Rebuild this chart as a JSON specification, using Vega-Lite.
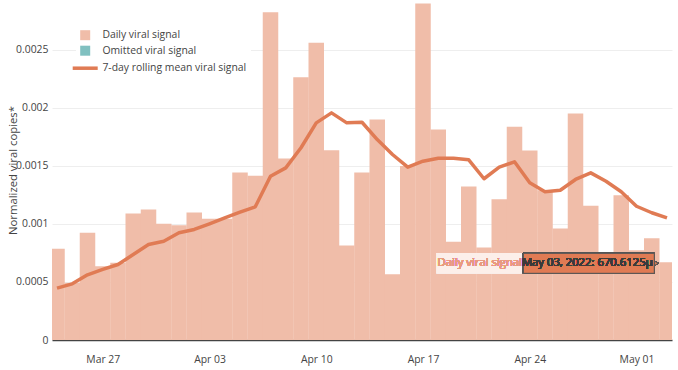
{
  "$schema": "https://vega.github.io/schema/vega-lite/v6.json",
  "width": 620,
  "height": 340,
  "autosize": {"type": "none"},
  "padding": {"left": 52, "top": 0, "right": 6, "bottom": 30},
  "config": {
    "font": "Open Sans",
    "view": {"stroke": null},
    "axis": {"labelColor": "#444", "titleColor": "#444", "labelFont": "Open Sans", "titleFont": "Open Sans"},
    "legend": {"labelFont": "Open Sans"}
  },
  "data": {
    "values": [
      {"date": "2022-03-24", "daily": 0.000786, "mean": 0.000447},
      {"date": "2022-03-25", "daily": 0.000493, "mean": 0.000484},
      {"date": "2022-03-26", "daily": 0.000924, "mean": 0.000562},
      {"date": "2022-03-27", "daily": 0.000636, "mean": 0.000608},
      {"date": "2022-03-28", "daily": 0.000665, "mean": 0.000651},
      {"date": "2022-03-29", "daily": 0.00109, "mean": 0.000737},
      {"date": "2022-03-30", "daily": 0.001125, "mean": 0.000823},
      {"date": "2022-03-31", "daily": 0.001002, "mean": 0.000852},
      {"date": "2022-04-01", "daily": 0.00099, "mean": 0.000924},
      {"date": "2022-04-02", "daily": 0.001099, "mean": 0.000953},
      {"date": "2022-04-03", "daily": 0.001045, "mean": 0.001002},
      {"date": "2022-04-04", "daily": 0.001045, "mean": 0.001053},
      {"date": "2022-04-05", "daily": 0.001444, "mean": 0.001102},
      {"date": "2022-04-06", "daily": 0.001415, "mean": 0.001148},
      {"date": "2022-04-07", "daily": 0.002826, "mean": 0.001412},
      {"date": "2022-04-08", "daily": 0.001565, "mean": 0.001484},
      {"date": "2022-04-09", "daily": 0.002266, "mean": 0.001657},
      {"date": "2022-04-10", "daily": 0.002562, "mean": 0.001872},
      {"date": "2022-04-11", "daily": 0.001636, "mean": 0.001958},
      {"date": "2022-04-12", "daily": 0.000815, "mean": 0.001872},
      {"date": "2022-04-13", "daily": 0.001444, "mean": 0.001877},
      {"date": "2022-04-14", "daily": 0.001901, "mean": 0.001728},
      {"date": "2022-04-15", "daily": 0.000567, "mean": 0.001599},
      {"date": "2022-04-16", "daily": 0.0015, "mean": 0.00149},
      {"date": "2022-04-17", "daily": 0.0029, "mean": 0.001541},
      {"date": "2022-04-18", "daily": 0.001815, "mean": 0.001567},
      {"date": "2022-04-19", "daily": 0.000846, "mean": 0.001567},
      {"date": "2022-04-20", "daily": 0.001323, "mean": 0.001553},
      {"date": "2022-04-21", "daily": 0.000797, "mean": 0.00139},
      {"date": "2022-04-22", "daily": 0.001214, "mean": 0.00149},
      {"date": "2022-04-23", "daily": 0.001838, "mean": 0.001536},
      {"date": "2022-04-24", "daily": 0.001634, "mean": 0.001355},
      {"date": "2022-04-25", "daily": 0.00129, "mean": 0.001278},
      {"date": "2022-04-26", "daily": 0.000961, "mean": 0.001291},
      {"date": "2022-04-27", "daily": 0.001953, "mean": 0.001384},
      {"date": "2022-04-28", "daily": 0.001157, "mean": 0.001441},
      {"date": "2022-04-29", "daily": 0.00071, "mean": 0.001369},
      {"date": "2022-04-30", "daily": 0.001248, "mean": 0.001278},
      {"date": "2022-05-01", "daily": 0.000774, "mean": 0.001153},
      {"date": "2022-05-02", "daily": 0.000878, "mean": 0.001097},
      {"date": "2022-05-03", "daily": 0.0006706125, "mean": 0.001053}
    ]
  },
  "layer": [
    {
      "mark": {"type": "bar", "size": 15.5, "clip": true, "opacity": 1},
      "encoding": {
        "x": {
          "field": "date", "type": "temporal",
          "scale": {"type": "utc", "nice": false, "domain": [{"year": 2022, "month": 3, "date": 24, "utc": true}, {"year": 2022, "month": 5, "date": 3, "utc": true}]},
          "axis": {"title": null, "format": "%b %d", "tickCount": {"interval": "week", "step": 1}, "grid": false, "ticks": false, "domainColor": "#444", "domainWidth": 1.5, "labelFontSize": 10.4, "labelPadding": 14}
        },
        "y": {
          "field": "daily", "type": "quantitative",
          "scale": {"domain": [0, 0.002931], "nice": false, "zero": true},
          "axis": {"values": [0, 0.0005, 0.001, 0.0015, 0.002, 0.0025], "format": "~g", "grid": true, "gridColor": "#eee", "gridWidth": 1, "domain": false, "ticks": false, "labelPadding": 4, "labelFontSize": 10.4, "title": "Normalized viral copies*", "titleFontSize": 11.3, "titleFontWeight": "normal", "titleX": -39, "titleY": 170, "titleAngle": -90, "titleAlign": "center", "titleBaseline": "middle"}
        },
        "color": {
          "datum": "Daily viral signal",
          "scale": {"domain": ["Daily viral signal", "Omitted viral signal", "7-day rolling mean viral signal"], "range": ["#f0bda9", "#80c0c0", "#e07b54"]},
          "legend": {
            "orient": "none", "legendX": 24, "legendY": 26, "title": null, "fillColor": "white", "padding": 4,
            "labelFontSize": 10.4, "labelColor": "#444", "rowPadding": 4.5, "labelOffset": 12,
            "symbolSize": {"expr": "datum && datum.value === '7-day rolling mean viral signal' ? 625 : 100"},
            "symbolType": {"expr": "datum.value === '7-day rolling mean viral signal' ? 'stroke' : 'square'"},
            "symbolStrokeWidth": {"expr": "datum.value === '7-day rolling mean viral signal' ? 3.5 : 0"},
            "symbolStrokeColor": {"expr": "scale('color', datum.value)"},
            "symbolOpacity": 1
          }
        }
      }
    },
    {
      "mark": {"type": "line", "strokeWidth": 3.5, "clip": true, "strokeJoin": "round"},
      "encoding": {
        "x": {"field": "date", "type": "temporal"},
        "y": {"field": "mean", "type": "quantitative"},
        "color": {"datum": "7-day rolling mean viral signal"}
      }
    },
    {
      "mark": {"type": "rect", "fill": "#fcefea"},
      "encoding": {
        "x": {"datum": {"year": 2022, "month": 4, "date": 17, "hours": 21, "minutes": 36, "utc": true}, "type": "temporal"},
        "x2": {"datum": {"year": 2022, "month": 4, "date": 23, "hours": 14, "utc": true}},
        "y": {"datum": 0.000747, "type": "quantitative"},
        "y2": {"datum": 0.000575}
      }
    },
    {
      "mark": {"type": "point", "shape": "triangle-right", "filled": true, "fill": "#e07b54", "stroke": "#555", "strokeWidth": 1, "size": 40, "opacity": 1},
      "encoding": {
        "x": {"datum": {"year": 2022, "month": 5, "date": 2, "hours": 6, "utc": true}, "type": "temporal"},
        "y": {"datum": 0.000661, "type": "quantitative"}
      }
    },
    {
      "mark": {"type": "rect", "fill": "#e07b54", "stroke": "#555", "strokeWidth": 1},
      "encoding": {
        "x": {"datum": {"year": 2022, "month": 4, "date": 23, "hours": 14, "utc": true}, "type": "temporal"},
        "x2": {"datum": {"year": 2022, "month": 5, "date": 2, "hours": 4, "utc": true}},
        "y": {"datum": 0.000747, "type": "quantitative"},
        "y2": {"datum": 0.000575}
      }
    },
    {
      "mark": {"type": "text", "text": "Daily viral signal", "fontSize": 11.3, "color": "#e99a80", "align": "center", "baseline": "middle", "font": "Open Sans"},
      "encoding": {
        "x": {"datum": {"year": 2022, "month": 4, "date": 20, "hours": 17, "minutes": 20, "utc": true}, "type": "temporal"},
        "y": {"datum": 0.000661, "type": "quantitative"}
      }
    },
    {
      "mark": {"type": "text", "text": "May 03, 2022: 670.6125μ", "fontSize": 11.3, "color": "#3a3a3a", "align": "center", "baseline": "middle", "font": "Open Sans"},
      "encoding": {
        "x": {"datum": {"year": 2022, "month": 4, "date": 27, "hours": 18, "minutes": 30, "utc": true}, "type": "temporal"},
        "y": {"datum": 0.000661, "type": "quantitative"}
      }
    }
  ]
}
